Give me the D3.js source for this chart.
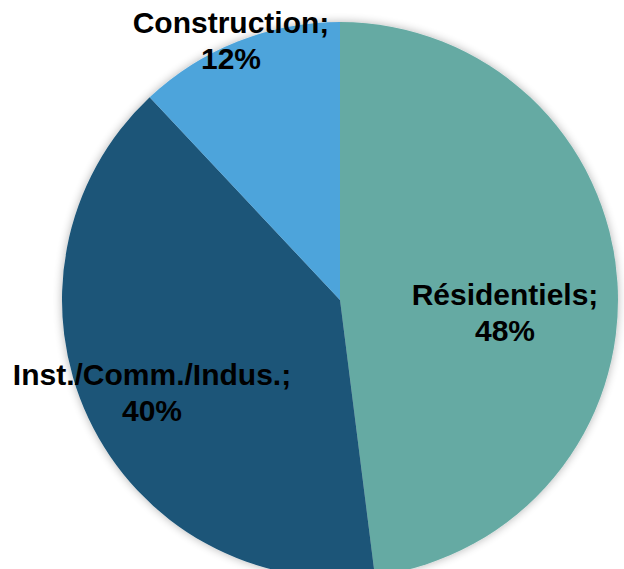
<!DOCTYPE html>
<html><head><meta charset="utf-8">
<script src="https://cdn.jsdelivr.net/npm/d3@7"></script>
<style>body{margin:0;background:#fff}svg{display:block}</style>
</head><body>
<script>
const categories = ["Résidentiels", "Inst./Comm./Indus.", "Construction"];
const values = [48, 40, 12];
const colors = ["#65AAA3", "#1A5478", "#4EA4DB"];

const W = 624, H = 569, cx = 340, cy = 300, R = 278;
const svg = d3.select("body").append("svg").attr("width", W).attr("height", H);
const defs = svg.append("defs");
const f = defs.append("filter").attr("id", "sh").attr("x", "-20%").attr("y", "-20%").attr("width", "140%").attr("height", "140%");
f.append("feGaussianBlur").attr("in", "SourceAlpha").attr("stdDeviation", 5).attr("result", "b");
f.append("feComponentTransfer").attr("in", "b").attr("result", "o2").append("feFuncA").attr("type", "linear").attr("slope", 0.3);
const m = f.append("feMerge");
m.append("feMergeNode").attr("in", "o2");
m.append("feMergeNode").attr("in", "SourceGraphic");

const pie = d3.pie().sort(null).value(d => d);
const arcs = pie(values);
const arc = d3.arc().innerRadius(0).outerRadius(R);
const g = svg.append("g").attr("transform", `translate(${cx},${cy})`);
g.append("g").attr("filter", "url(#sh)").selectAll("path").data(arcs).join("path")
  .attr("d", arc).attr("fill", (d, i) => colors[i]);

const labelPos = [[505, 305], [152, 385], [231, 33]];
const lab = svg.append("g").attr("font-family", "Liberation Sans, Arial, sans-serif")
  .attr("font-weight", "bold").attr("font-size", 30).attr("fill", "#000").attr("text-anchor", "middle");
arcs.forEach((d, i) => {
  const t = lab.append("text").attr("x", labelPos[i][0]).attr("y", labelPos[i][1]);
  t.append("tspan").attr("x", labelPos[i][0]).text(categories[i] + ";");
  t.append("tspan").attr("x", labelPos[i][0]).attr("dy", 36).text(values[i] + "%");
});
</script>
</body></html>
